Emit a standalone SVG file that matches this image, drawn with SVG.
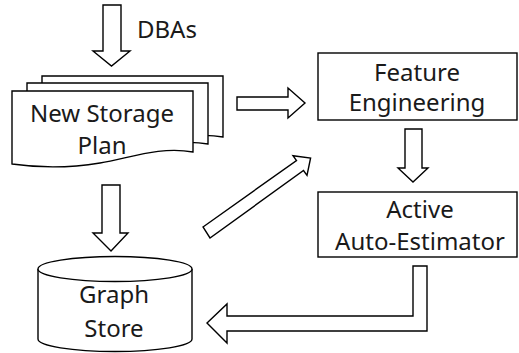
<svg xmlns="http://www.w3.org/2000/svg" width="519" height="353" viewBox="0 0 519 353">
  <style>
    .shape { fill: #ffffff; stroke: #000000; stroke-width: 1.4; stroke-linejoin: miter; }
    .arrow { fill: #ffffff; stroke: #000000; stroke-width: 1.4; stroke-linejoin: miter; }
    .label { font-family: "Noto Sans", "Open Sans", sans-serif; font-size: 24px; fill: #1a1a1a; text-anchor: middle; }
    .plain { font-family: "Noto Sans", "Open Sans", sans-serif; font-size: 24px; fill: #1a1a1a; }
  </style>
  <defs>
    <path id="doc" d="M12,91 H193 V152 C160,146 130,158 100,163 C70,168 40,168 12,164 Z"/>
  </defs>
  <rect width="519" height="353" fill="#ffffff"/>

  <g id="connectors">
    <!-- DBAs input arrow -->
    <polygon class="arrow" points="103,5 121,5 121,51 130,51 111.5,66 93,51 103,51"/>
    <!-- Plan -> Feature Engineering -->
    <polygon class="arrow" points="237,97 288,97 288,88 305,103 288,118 288,110 237,110"/>
    <!-- Feature Engineering -> Active Auto-Estimator -->
    <polygon class="arrow" points="405,129 422,129 422,168 428,168 413,182 398,168 405,168"/>
    <!-- Plan -> Graph Store -->
    <polygon class="arrow" points="102,185 120,185 120,233 128,233 111,251 93,233 102,233"/>
    <!-- Graph Store -> Feature Engineering (diagonal) -->
    <polygon class="arrow" points="203,227 296.5,160.5 293,155.7 310.6,158 307,175.3 303.5,170.5 210,238"/>
    <!-- Active Auto-Estimator -> Graph Store -->
    <polygon class="arrow" points="413,266 427,266 427,331 227,331 227,343 207,323 227,304 227,316 413,316"/>
  </g>

  <g id="dbas-label">
    <text class="plain" x="137" y="38">DBAs</text>
  </g>

  <g id="new-storage-plan">
    <use href="#doc" class="shape" transform="translate(30,-15)"/>
    <use href="#doc" class="shape" transform="translate(15,-8)"/>
    <use href="#doc" class="shape"/>
    <text class="label" x="102" y="122">New Storage</text>
    <text class="label" x="102" y="154">Plan</text>
  </g>

  <g id="feature-engineering">
    <rect class="shape" x="318" y="53" width="199" height="67"/>
    <text class="label" x="417" y="81">Feature</text>
    <text class="label" x="417" y="111">Engineering</text>
  </g>

  <g id="active-auto-estimator">
    <rect class="shape" x="318" y="192" width="199" height="65"/>
    <text class="label" x="420" y="218">Active</text>
    <text class="label" x="420" y="250">Auto-Estimator</text>
  </g>

  <g id="graph-store">
    <path class="shape" d="M38,269 V339 A77,12.5 0 0 0 192,339 V269"/>
    <ellipse class="shape" cx="115" cy="269" rx="77" ry="12.5"/>
    <text class="label" x="114" y="303">Graph</text>
    <text class="label" x="114" y="337">Store</text>
  </g>
</svg>
